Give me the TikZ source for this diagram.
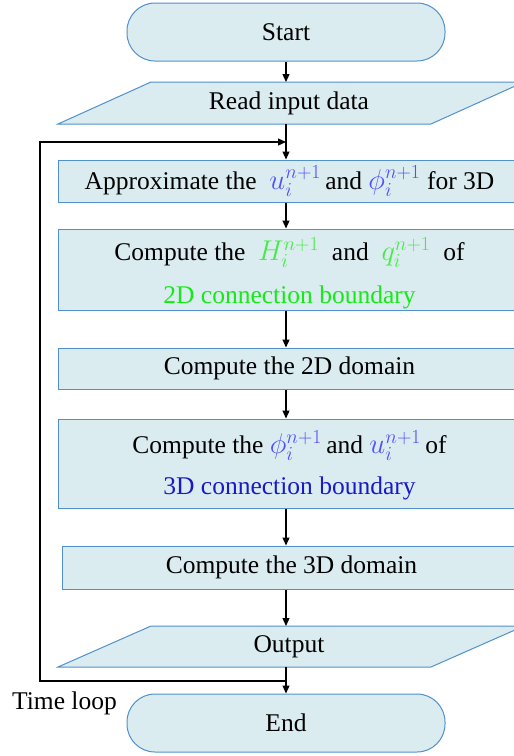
\documentclass[tikz,border=0pt]{standalone}
\usepackage{fontspec}
\setmainfont{Liberation Serif}
\usetikzlibrary{arrows.meta}
\definecolor{fillc}{RGB}{218,236,240}
\definecolor{edgec}{RGB}{80,145,205}
\definecolor{mblue}{RGB}{80,80,255}
\definecolor{mgreen}{RGB}{70,235,70}
\definecolor{tgreen}{RGB}{20,235,20}
\definecolor{dblue}{RGB}{25,25,200}
\newcommand{\mymth}[2]{\textcolor{#1}{\scalebox{1.15}{$#2$}}}
\begin{document}
\begin{tikzpicture}[x=1pt,y=-1pt,
  font=\fontsize{25.5}{30}\selectfont,
  box/.style={draw=edgec,fill=fillc,line width=1pt,inner sep=0pt,minimum width=462pt,anchor=west},
  term/.style={draw=edgec,fill=fillc,line width=1pt,rounded corners=28pt,minimum width=318pt,minimum height=58pt,inner sep=0pt},
  para/.style={draw=edgec,fill=fillc,line width=1pt},
  arr/.style={-{Triangle[length=8pt,width=7pt]},line width=1.2pt}]
\clip (0,0) rectangle (514,756);
% terminals
\node[term] (start) at (286,32) {Start};
\node[term] (end) at (286,723) {End};
% read input
\path[para] (151,82) -- (524,82) -- (431,124) -- (58,124) -- cycle;
\node (read) at (289,103) {Read input data};
\coordinate (readtop) at (286,82);
\coordinate (readbot) at (286,124);
% boxes
\node[box,minimum height=42pt] (approx) at (58,181)
  {Approximate the \ \mymth{mblue}{u_i^{n+1}}\,and \mymth{mblue}{\phi_i^{n+1}}\ for 3D};
\node[box,minimum height=81pt] (hq) at (58,269.5) {};
\node[align=center,inner sep=0pt] (hqt) at ([yshift=-4pt]hq.center)
  {Compute the \ \mymth{mgreen}{H_i^{n+1}}\ \ and \ \mymth{mgreen}{q_i^{n+1}}\ \ of\\[13pt]
   \textcolor{tgreen}{2D connection boundary}};
\node[box,minimum height=41pt] (dom2) at (58,368.5) {Compute the 2D domain};
\node[box,minimum height=89pt] (pu) at (58,463.5) {};
\node[align=center,inner sep=0pt] (put) at ([yshift=-2pt]pu.center)
  {Compute the \mymth{mblue}{\phi_i^{n+1}}\,and \mymth{mblue}{u_i^{n+1}}\,of\\[11pt]
   \textcolor{dblue}{3D connection boundary}};
\node[box,minimum height=43pt,minimum width=458pt] (dom3) at (62,567.5) {Compute the 3D domain};
% output
\path[para] (151,626) -- (524,626) -- (431,667) -- (58,667) -- cycle;
\node (out) at (289,646.5) {Output};
\coordinate (outtop) at (286,626);
\coordinate (outbot) at (286,667);
% loop
\coordinate (loopbot) at (286,681);
\coordinate (loopbl) at (40,681);
\coordinate (looptl) at (40,142);
\coordinate (looptop) at (286,142);
\node (tl) at (64.5,703) {Time loop};
% connectors
\draw[arr] (start.south) -- (readtop);
\draw[arr] (readbot) -- (readbot |- approx.north);
\draw[arr] (readbot |- approx.south) -- (readbot |- hq.north);
\draw[arr] (readbot |- hq.south) -- (readbot |- dom2.north);
\draw[arr] (readbot |- dom2.south) -- (readbot |- pu.north);
\draw[arr] (readbot |- pu.south) -- (readbot |- dom3.north);
\draw[arr] (readbot |- dom3.south) -- (outtop);
\draw[arr] (outbot) -- (end.north);
\draw[arr] (loopbot) -- (loopbl) -- (looptl) -- (looptop);
\end{tikzpicture}
\end{document}
